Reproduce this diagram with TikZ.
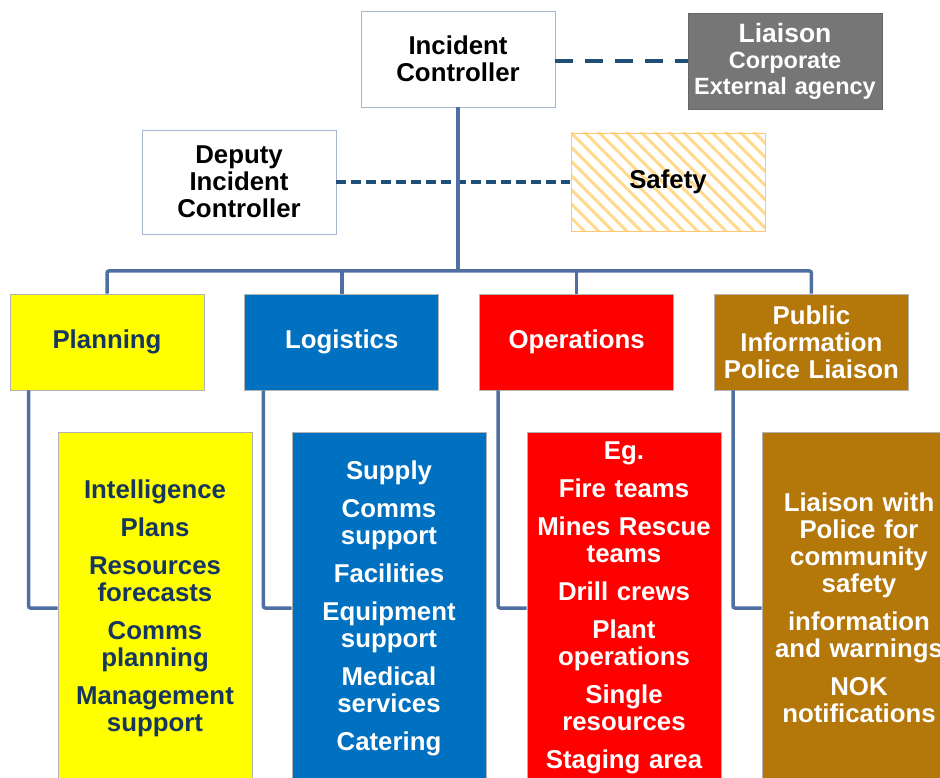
\documentclass[tikz,border=0pt]{standalone}
\usepackage{fontspec}
\setmainfont{Liberation Sans}
\usetikzlibrary{positioning}
\usetikzlibrary{patterns.meta}

\definecolor{chartnavy}{HTML}{17365D}
\definecolor{dashblue}{HTML}{1F4E79}
\definecolor{treeblue}{HTML}{4F6FA3}
\definecolor{planyellow}{HTML}{FFFF00}
\definecolor{logblue}{HTML}{0070C0}
\definecolor{opsred}{HTML}{FF0000}
\definecolor{pubbrown}{HTML}{B3770A}
\definecolor{liaisongray}{HTML}{767676}
\definecolor{hatchorange}{HTML}{FFD98C}

\begin{document}
\begin{tikzpicture}[
x=1pt, y=-1pt,
box/.style={
	% The shape:
	rectangle,
	% The size:
	minimum width=194pt, minimum height=96pt,
	inner sep=0pt, text width=188pt, align=center,
	% The border:
	draw=black!30, line width=0.8pt,
	% Font
	font=\fontsize{25.8}{27}\selectfont\bfseries},
detail/.style={box, minimum height=352pt},
tree/.style={line width=3.5pt, treeblue, rounded corners=2pt},
link/.style={line width=3.5pt, dashblue},
node distance=40pt,
]
\useasboundingbox (0,0) rectangle (940,778);
\clip (0,0) rectangle (940,778);

% top of the chart
\node (ic) [box, draw=treeblue!50, fill=white] at (458,59) {Incident\\Controller};
\node (liaison) [box, draw=black!60, fill=liaisongray, text=white,
  font=\fontsize{23.5}{26}\selectfont\bfseries] at (785,61)
  {{\fontsize{26.5}{26}\selectfont Liaison}\\Corporate\\External agency};
\node (deputy) [box, minimum height=104pt, draw=treeblue!50, fill=white] at (239,182)
  {Deputy\\Incident\\Controller};
\node (safety) [box, minimum height=98pt, draw=hatchorange!80!orange,
  pattern={Lines[angle=-45,distance=10pt,line width=3pt]}, pattern color=hatchorange]
  at (668,182) {Safety};

\draw[link, dash pattern=on 18pt off 12pt] (ic.east |- liaison) -- (liaison.west);
\draw[link, dash pattern=on 10pt off 5pt] (deputy.east) -- (safety.west);

% the four sections
\node (plan) [box, fill=planyellow, text=chartnavy] at (107,342) {Planning};
\node (log) [box, fill=logblue, text=white, right=of plan] {Logistics};
\node (ops) [box, fill=opsred, text=white, right=of log] {Operations};
\node (pub) [box, fill=pubbrown, text=white, right=of ops] {Public\\Information\\Police Liaison};

\coordinate (bar) at (458,271);
\draw[tree] (ic.south) -- (bar);
\draw[tree] (plan.north) |- (bar) -| (pub.north);
\draw[tree] (log.north) -- (log.north |- bar);
\draw[tree] (ops.north) -- (ops.north |- bar);

% what each section covers
\node (plandet) [detail, fill=planyellow, text=chartnavy] at (155,608)
  {Intelligence\\[11pt]Plans\\[11pt]Resources\\forecasts\\[11pt]Comms\\planning\\[11pt]Management\\support};
\node (logdet) [detail, fill=logblue, text=white] at (389,608)
  {Supply\\[11pt]Comms\\support\\[11pt]Facilities\\[11pt]Equipment\\support\\[11pt]Medical\\services\\[11pt]Catering};
\node (opsdet) [detail, fill=opsred, text=white] at (624,608)
  {Eg.\\[11pt]Fire teams\\[11pt]Mines Rescue\\teams\\[11pt]Drill crews\\[11pt]Plant\\operations\\[11pt]Single\\resources\\[11pt]Staging area};
\node (pubdet) [detail, fill=pubbrown, text=white] at (859,608)
  {Liaison with\\Police for\\community\\safety\\[11pt]information\\and warnings\\[11pt]NOK\\notifications};

\draw[tree] ([xshift=19pt]plan.south west) |- (plandet.west);
\draw[tree] ([xshift=19pt]log.south west) |- (logdet.west);
\draw[tree] ([xshift=19pt]ops.south west) |- (opsdet.west);
\draw[tree] ([xshift=19pt]pub.south west) |- (pubdet.west);

\end{tikzpicture}
\end{document}
